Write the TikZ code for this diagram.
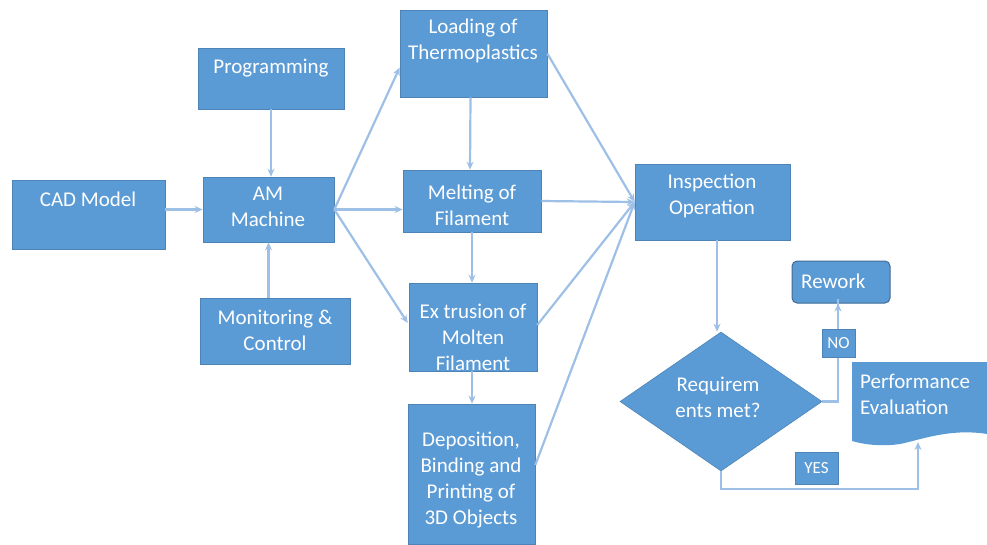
\documentclass[tikz,border=0pt]{standalone}
\usepackage{fontspec}
\setmainfont{Carlito}
\usetikzlibrary{shapes.geometric,arrows.meta,calc}
\definecolor{boxblue}{HTML}{5B9BD5}
\definecolor{edgeblue}{HTML}{9EC0E6}
\begin{document}
\begin{tikzpicture}[x=1pt,y=-1pt,
  box/.style={draw=boxblue!85!black,line width=0.6pt,fill=boxblue,inner sep=0pt},
  txt/.style={text=white,font=\fontsize{21}{26}\selectfont,align=center,inner sep=0pt},
  small/.style={text=white,font=\fontsize{17}{20}\selectfont,inner sep=0pt},
  conn/.style={draw=edgeblue,line width=2.2pt,-{Stealth[length=8pt,width=7pt]}}]
\useasboundingbox (0,0) rectangle (987,544);
% boxes
\node[box,minimum width=153,minimum height=69] (cad) at (88.5,214.5) {};
\node[txt] (cadt) at (88,199) {CAD Model};
\node[box,minimum width=146,minimum height=61] (prog) at (271,78.5) {};
\node[txt] (progt) at (271,68) {Programming};
\node[box,minimum width=131,minimum height=65] (am) at (268.5,209.5) {};
\node[txt] (amt) at (268,207) {AM\\Machine};
\node[box,minimum width=150,minimum height=66] (mon) at (275,331) {};
\node[txt] (mont) at (275,330) {Monitoring \&\\Control};
\node[box,minimum width=147,minimum height=87] (load) at (473.5,53.5) {};
\node[txt] (loadt) at (473,41) {Loading of\\Thermoplastics};
\node[box,minimum width=138,minimum height=62] (melt) at (472,201) {};
\node[txt] (meltt) at (472,205) {Melting of\\Filament};
\node[box,minimum width=128,minimum height=88] (ext) at (473,327) {};
\node[txt] (extt) at (473,337) {Ex trusion of\\Molten\\Filament};
\node[box,minimum width=127,minimum height=140] (dep) at (471.5,474) {};
\node[txt] (dept) at (471,480) {Deposition,\\Binding and\\Printing of\\3D Objects};
\node[box,minimum width=155,minimum height=76] (insp) at (712.5,202) {};
\node[txt] (inspt) at (712,196) {Inspection\\Operation};
\node[box,rounded corners=5pt,draw=boxblue!70!black,line width=1pt,minimum width=98,minimum height=42] (rework) at (841,282) {};
\node[txt,anchor=west] (reworkt) at (801,281) {Rework};
\node[box,diamond,minimum width=202,minimum height=139,aspect=1.45] (dia) at (721,401.5) {};
\node[txt] (diat) at (718,397) {Requirem\\ents met?};
% document shape
\fill[boxblue] (852,362) -- (987,362) -- (987,434)
  .. controls (950,428) and (920,440) .. (900,444)
  .. controls (880,447) and (862,444) .. (852,441) -- cycle;
\coordinate (perfb) at (918,442);
\node[txt,align=left,anchor=north west] (perft) at (860,374) {Performance\\Evaluation};
% connectors
\draw[conn] (cad.east |- am.west) -- (am.west);
\draw[conn] (prog.south) -- (prog.south |- am.north);
\draw[conn] (am.south |- mon.north) -- (am.south);
\draw[conn] (am.east) -- ($(load.west)+(0,14)$);
\draw[conn] (am.east) -- (am.east -| melt.west);
\draw[conn] (am.east) -- ($(ext.west)+(-1,-4)$);
\draw[conn] ($(load.south)+(-3,0)$) -- ($(melt.north)+(-2,0)$);
\draw[conn] (melt.south) -- (melt.south |- ext.north);
\draw[conn] (melt.south |- ext.south) -- (melt.south |- dep.north);
\draw[conn] (load.east) -- (insp.west);
\draw[conn] (melt.east) -- (insp.west);
\draw[conn] ($(ext.east)+(0,-2)$) -- (insp.west);
\draw[conn] ($(dep.east)+(0,-9)$) -- (insp.west);
\draw[conn] ($(dia.north |- insp.south)+(-4,0)$) -- ($(dia.north)+(-4,0)$);
\draw[conn] (dia.east) -- ($(dia.east)+(16,0)$) |- ($(rework.south)+(-3,0)$) -- ($(rework.south)+(-3,0)$);
\draw[conn] (dia.south) -- ($(dia.south)+(0,18)$) -| (perfb);
% label boxes
\node[box,minimum width=33,minimum height=28] (no) at (838.5,343) {};
\node[small] (not) at (838.5,343) {NO};
\node[box,minimum width=43,minimum height=32] (yes) at (816.5,468) {};
\node[small] (yest) at (816.5,468) {YES};
\end{tikzpicture}
\end{document}
